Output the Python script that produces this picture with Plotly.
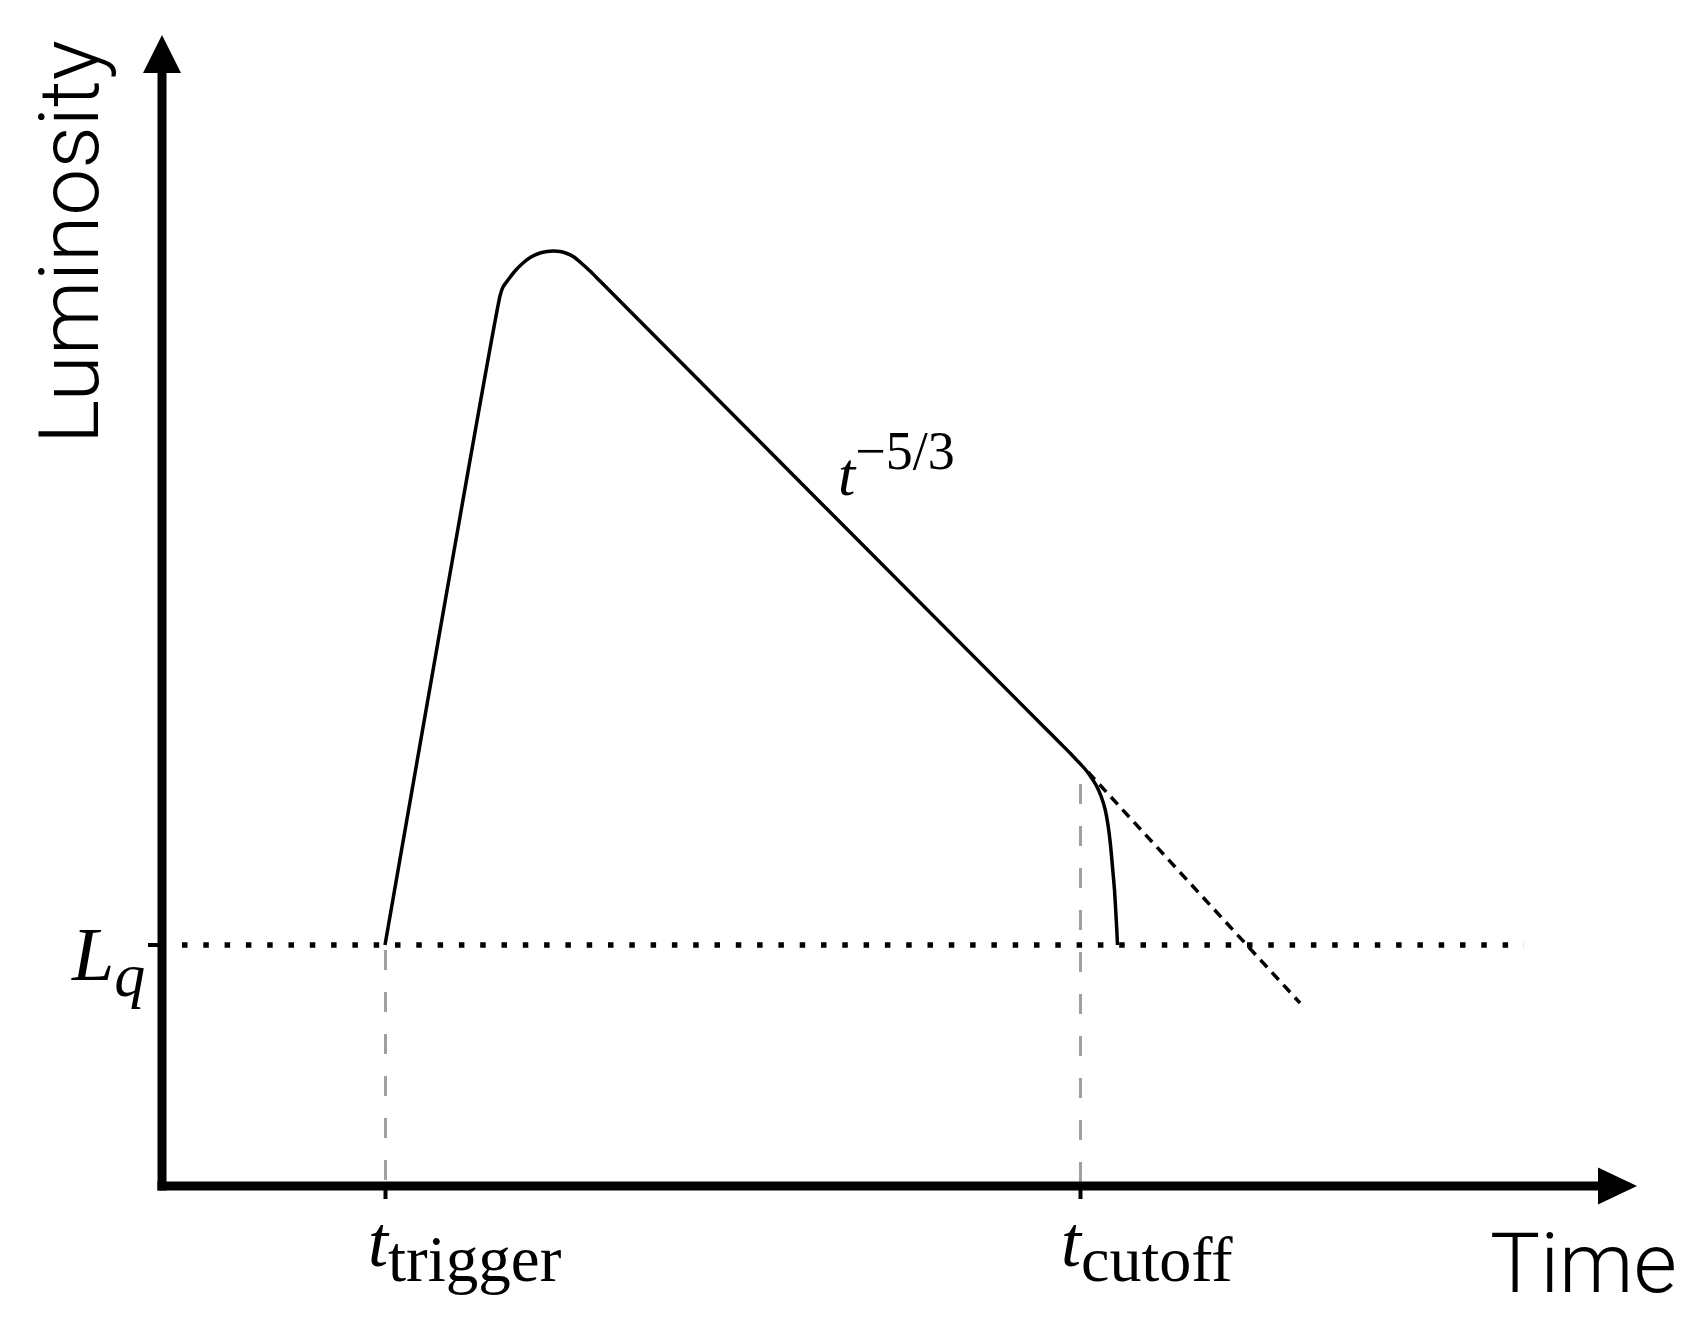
import plotly.graph_objects as go

# ---- data (arbitrary schematic units: time, luminosity) ----
curve_t = [2.23, 3.38, 3.41, 3.46, 3.53, 3.61, 3.69, 3.78, 3.85, 3.91, 3.98, 4.05, 4.12, 4.18, 4.28, 4.38,
           8.83, 8.98, 9.08, 9.16, 9.23, 9.29, 9.34, 9.39, 9.43, 9.46, 9.485, 9.505, 9.525, 9.538, 9.548, 9.555]
curve_L = [2.41, 8.90, 8.99, 9.06, 9.15, 9.23, 9.29, 9.33, 9.345, 9.35, 9.345, 9.325, 9.29, 9.24, 9.15, 9.05,
           4.58, 4.43, 4.33, 4.245, 4.17, 4.09, 4.01, 3.90, 3.77, 3.61, 3.41, 3.19, 2.96, 2.74, 2.56, 2.41]
ext_t = [9.26, 11.38]
ext_L = [4.14, 1.83]
L_q = 2.41
Lq_span_t = [0.20, 13.62]
t_trigger = 2.235
t_cutoff = 9.185
cutoff_guide_top = 4.02
trigger_guide_top = 2.36
x_axis_end = 14.75
y_axis_end = 11.51

fig = go.Figure()

# grey guide lines
fig.add_trace(go.Scatter(x=[t_trigger, t_trigger], y=[trigger_guide_top, 0], mode="lines",
                         line=dict(color="#a0a0a0", width=3, dash="20px,22px"), hoverinfo="skip"))
fig.add_trace(go.Scatter(x=[t_cutoff, t_cutoff], y=[cutoff_guide_top, 0], mode="lines",
                         line=dict(color="#a0a0a0", width=3, dash="20px,22px"), hoverinfo="skip"))
# quiescent level
fig.add_trace(go.Scatter(x=Lq_span_t, y=[L_q, L_q], mode="lines",
                         line=dict(color="black", width=5.5, dash="5.5px,15.8px"), hoverinfo="skip"))
# light curve
fig.add_trace(go.Scatter(x=curve_t, y=curve_L, mode="lines",
                         line=dict(color="black", width=3.5, shape="spline", smoothing=0.5),
                         hoverinfo="skip"))
# power-law extension
fig.add_trace(go.Scatter(x=ext_t, y=ext_L, mode="lines",
                         line=dict(color="black", width=3.5, dash="10px,7px"), hoverinfo="skip"))

shapes = [
    # axes
    dict(type="line", x0=0, x1=0, y0=-0.045, y1=y_axis_end - 0.37, line=dict(color="black", width=9)),
    dict(type="line", x0=-0.045, x1=x_axis_end - 0.38, y0=0, y1=0, line=dict(color="black", width=9)),
    # arrowheads
    dict(type="path", xsizemode="pixel", ysizemode="pixel", xanchor=0, yanchor=y_axis_end,
         path="M 0,0 L -19,-38 L 19,-38 Z", fillcolor="black", line=dict(width=0)),
    dict(type="path", xsizemode="pixel", ysizemode="pixel", xanchor=x_axis_end, yanchor=0,
         path="M 0,0 L -39,18.5 L -39,-18.5 Z", fillcolor="black", line=dict(width=0)),
    # ticks
    dict(type="line", x0=-0.14, x1=0, y0=L_q, y1=L_q, line=dict(color="black", width=4)),
    dict(type="line", x0=t_trigger, x1=t_trigger, y0=0, y1=-0.13, line=dict(color="black", width=4)),
    dict(type="line", x0=t_cutoff, x1=t_cutoff, y0=0, y1=-0.13, line=dict(color="black", width=4)),
]

sans = dict(family="Roboto, Inter, 'Open Sans', sans-serif", size=84, color="black", weight=300)
serif = "Liberation Serif, 'DejaVu Serif', serif"

annotations = [
    dict(x=-0.93, y=9.44, text="Luminosity", textangle=-90, showarrow=False,
         xanchor="center", yanchor="middle", font=sans),
    dict(x=13.26, y=-0.77, text="Time", showarrow=False, xanchor="left", yanchor="middle", font=sans),
    dict(x=t_trigger - 0.2, y=-0.62,
         text="<i>t</i><sub><span style='font-size:65px'>trigger</span></sub>", showarrow=False,
         xanchor="left", yanchor="middle", font=dict(family=serif, size=72, color="black")),
    dict(x=t_cutoff - 0.22, y=-0.62,
         text="<i>t</i><sub><span style='font-size:64px'>cutoff</span></sub>", showarrow=False,
         xanchor="left", yanchor="middle", font=dict(family=serif, size=72, color="black")),
    dict(x=-0.15, y=L_q - 0.15,
         text="<i>L</i><sub><span style='font-size:62px'><i>q</i></span></sub>", showarrow=False,
         xanchor="right", yanchor="middle", font=dict(family=serif, size=76, color="black")),
    dict(x=6.74, y=7.22,
         text="<i>t</i><sup><span style='font-size:54px'>\u22125/3</span></sup>", showarrow=False,
         xanchor="left", yanchor="middle", font=dict(family=serif, size=62, color="black")),
]

fig.update_layout(
    width=1687, height=1317,
    margin=dict(l=0, r=0, t=0, b=0),
    paper_bgcolor="white", plot_bgcolor="white",
    showlegend=False,
    xaxis=dict(range=[-1.62, 15.25], visible=False, fixedrange=True),
    yaxis=dict(range=[-1.31, 11.86], visible=False, fixedrange=True),
    shapes=shapes, annotations=annotations,
)

fig.write_html("out.html")
